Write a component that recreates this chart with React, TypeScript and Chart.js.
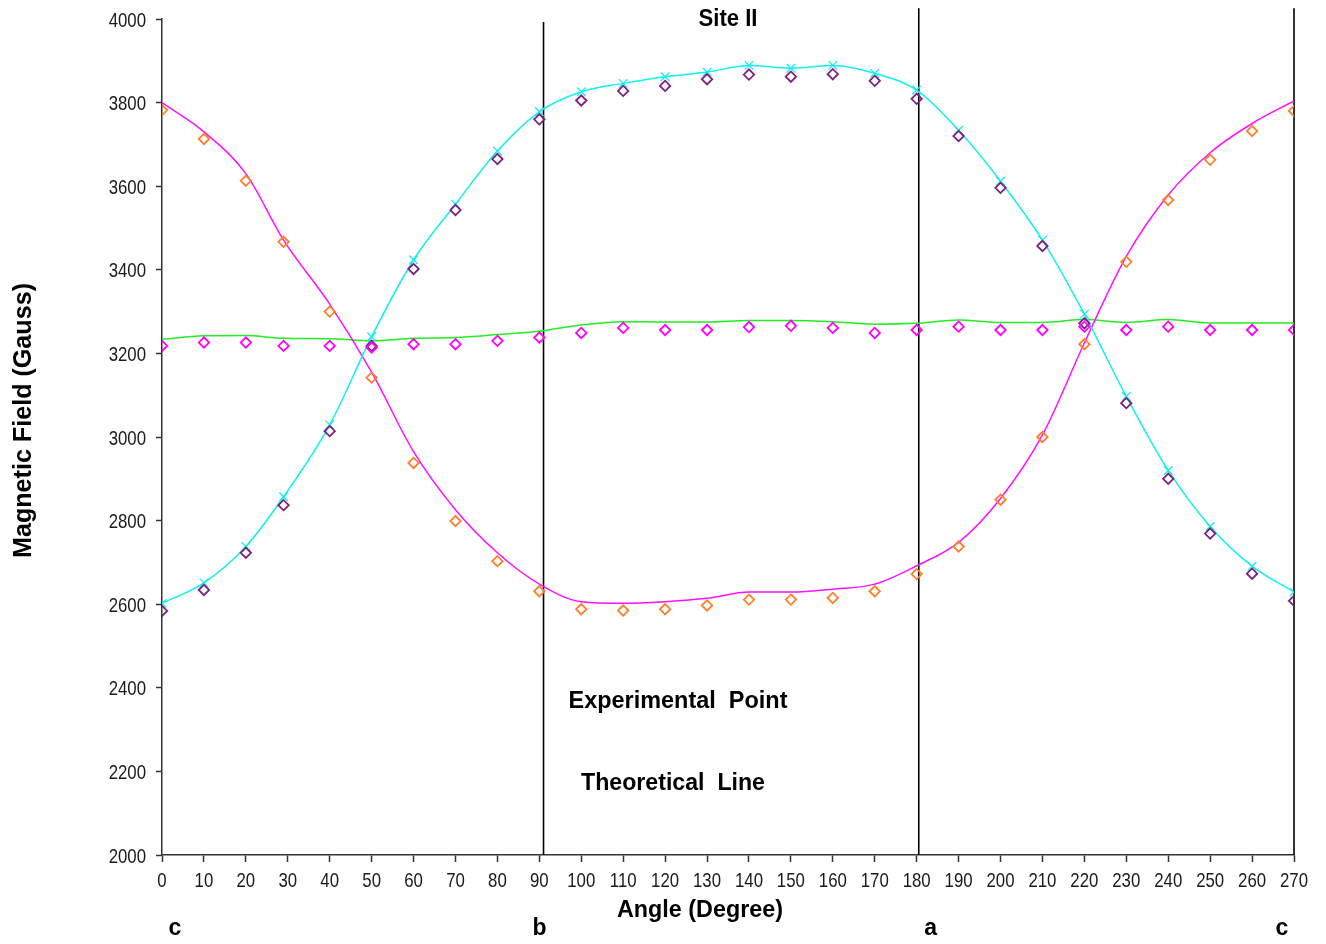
import React, { useEffect, useRef } from "react";
import { Chart, registerables } from "chart.js";
Chart.register(...registerables);

// ---- data ----
const angles = [0, 10, 20, 29, 40, 50, 60, 70, 80, 90, 100, 110, 120, 130, 140, 150, 160, 170, 180, 190, 200, 210, 220, 230, 240, 250, 260, 270];

// theoretical lines
const theoryCyan = [2602, 2651, 2738, 2857, 3029, 3240, 3424, 3557, 3684, 3778, 3826, 3846, 3862, 3873, 3889, 3882, 3889, 3870, 3830, 3734, 3612, 3471, 3294, 3097, 2920, 2786, 2691, 2629];
const theoryMagenta = [3800, 3730, 3630, 3471, 3318, 3155, 2965, 2826, 2723, 2648, 2606, 2602, 2606, 2614, 2629, 2629, 2636, 2648, 2692, 2748, 2853, 3005, 3225, 3432, 3579, 3680, 3750, 3804];
const theoryGreen = [3234, 3242, 3243, 3236, 3235, 3230, 3236, 3238, 3245, 3253, 3268, 3276, 3275, 3275, 3279, 3279, 3276, 3270, 3272, 3280, 3274, 3274, 3281, 3274, 3281, 3273, 3273, 3273];

// experimental points
const expPurple = [2584, 2634, 2723, 2837, 3014, 3218, 3402, 3543, 3665, 3760, 3805, 3828, 3840, 3856, 3867, 3862, 3868, 3852, 3809, 3720, 3596, 3457, 3272, 3081, 2900, 2769, 2673, 2608];
const expOrange = [3782, 3713, 3613, 3467, 3300, 3142, 2938, 2799, 2703, 2631, 2588, 2585, 2588, 2597, 2611, 2611, 2615, 2631, 2672, 2738, 2850, 3000, 3222, 3419, 3567, 3663, 3732, 3780];
const expMagenta = [3218, 3226, 3226, 3218, 3218, 3214, 3222, 3222, 3230, 3238, 3249, 3261, 3256, 3256, 3263, 3266, 3261, 3249, 3256, 3264, 3256, 3256, 3264, 3256, 3264, 3256, 3256, 3256];

// crystal axis reference lines
const axisAngles = [91, 180.5, 270];
const axisTops = [3993, 4026, 4026];
const axisBase = 2000;
const axisLetters = ["c", "b", "a", "c"];

export default function App() {
  const ref = useRef<HTMLCanvasElement>(null);

  useEffect(() => {
    const canvas = ref.current!;
    const pts = (ys: number[]) => angles.map((a, i) => ({ x: a, y: ys[i] }));

    const diamond = (label: string, ys: number[], color: string) => ({
      label,
      data: pts(ys),
      showLine: false,
      pointStyle: "rectRot",
      pointRadius: 5.2,
      pointBorderWidth: 1.8,
      pointBorderColor: color,
      pointBackgroundColor: "rgba(0,0,0,0)",
      borderColor: color,
      backgroundColor: "rgba(0,0,0,0)",
    });

    const line = (label: string, ys: number[], color: string, marker: boolean) => ({
      label,
      data: pts(ys),
      borderColor: color,
      borderWidth: 1.5,
      cubicInterpolationMode: "monotone",
      pointStyle: "crossRot",
      pointRadius: marker ? 6 : 0,
      pointBorderWidth: 1.3,
      pointBorderColor: color,
      pointBackgroundColor: color,
      backgroundColor: "rgba(0,0,0,0)",
    });

    const vlines = axisAngles.map((a, i) => ({
      label: "axis" + i,
      data: [
        { x: a, y: axisBase },
        { x: a, y: axisTops[i] },
      ],
      borderColor: "#000",
      borderWidth: 1.6,
      pointRadius: 0,
      clip: false,
    }));

    const textPlugin = {
      id: "texts",
      afterDraw(chart: any) {
        const c: CanvasRenderingContext2D = chart.ctx;
        const draw = (
          txt: string,
          cx: number,
          base: number,
          font: string,
          targetW: number | null,
          rot = 0,
          align: CanvasTextAlign = "center",
          sxFixed = 1,
          color = "#000"
        ) => {
          c.save();
          c.font = font;
          c.fillStyle = color;
          c.textBaseline = "alphabetic";
          c.textAlign = align;
          const w = c.measureText(txt).width;
          const sx = targetW ? targetW / w : sxFixed;
          c.translate(cx, base);
          if (rot) c.rotate(rot);
          c.scale(sx, 1);
          c.fillText(txt, 0, 0);
          c.restore();
        };
        const bold = (s: number) => `bold ${s}px "Liberation Sans", Arial, sans-serif`;
        const tickF = `21px "Liberation Sans", Arial, sans-serif`;

        // tick labels taken from the library's scales
        const xs = chart.scales.x;
        const ys = chart.scales.y;
        xs.ticks.forEach((t: any) => {
          draw(String(t.value), xs.getPixelForValue(t.value), 887, tickF, null, 0, "center", 0.8, "#1a1a1a");
        });
        ys.ticks.forEach((t: any) => {
          draw(String(t.value), 146, ys.getPixelForValue(t.value) + 7.5, tickF, null, 0, "right", 0.8, "#1a1a1a");
        });

        draw("Site II", 728, 26, bold(23), 59);
        draw("Experimental  Point", 678, 708, bold(23), 219);
        draw("Theoretical  Line", 673, 790, bold(23), 184);
        draw("Angle (Degree)", 700, 917, bold(23), 166);
        draw("Magnetic Field (Gauss)", 31, 420.5, bold(25), 275, -Math.PI / 2);
        const letterX = [
          xs.getPixelForValue(0) + 13,
          xs.getPixelForValue(axisAngles[0]) - 4,
          xs.getPixelForValue(axisAngles[1]) + 12,
          xs.getPixelForValue(axisAngles[2]) - 12,
        ];
        axisLetters.forEach((t, i) => draw(t, letterX[i], 935, bold(23), null));
      },
    };

    const chart = new Chart(canvas, {
      type: "line",
      data: {
        datasets: [
          diamond("exp3", expMagenta, "#FF00FF"),
          diamond("exp2", expOrange, "#FF7F2A"),
          diamond("exp1", expPurple, "#7F1F7F"),
          line("th1", theoryCyan, "#10F0F0", true),
          line("th2", theoryMagenta, "#FF10FF", false),
          line("th3", theoryGreen, "#22EE22", false),
          ...vlines,
        ] as any,
      },
      options: {
        responsive: false,
        animation: false,
        layout: { padding: { left: 0, right: 32, top: 19, bottom: 0 } },
        plugins: { legend: { display: false }, tooltip: { enabled: false } },
        scales: {
          x: {
            type: "linear",
            min: 0,
            max: 270,
            afterFit: (s: any) => {
              s.height = 89;
            },
            ticks: { display: false, stepSize: 10, autoSkip: false, maxRotation: 0, minRotation: 0 },
            grid: { drawOnChartArea: false, drawTicks: true, tickLength: 7, color: "#333", tickWidth: 1.5 },
            border: { display: true, color: "#333", width: 1.5 },
          },
          y: {
            type: "linear",
            min: 2000,
            max: 4000,
            afterFit: (s: any) => {
              s.width = 162;
            },
            ticks: { display: false, stepSize: 200 },
            grid: { drawOnChartArea: false, drawTicks: true, tickLength: 6, color: "#333", tickWidth: 1.5 },
            border: { display: true, color: "#333", width: 1.5 },
          },
        },
      },
      plugins: [textPlugin],
    } as any);

    return () => chart.destroy();
  }, []);

  return (
    <div style={{ position: "absolute", left: 0, top: 0, width: 1326, height: 944, background: "#fff" }}>
      <canvas ref={ref} width={1326} height={944} style={{ display: "block" }} />
    </div>
  );
}
